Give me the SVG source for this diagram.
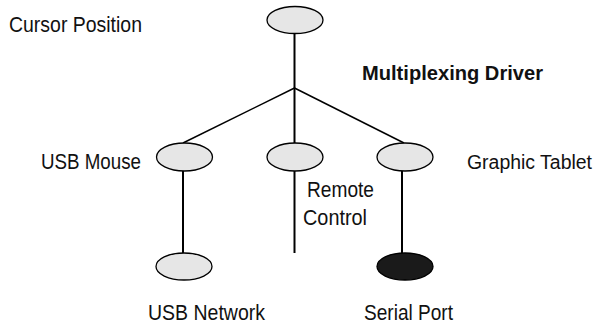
<svg xmlns="http://www.w3.org/2000/svg" width="599" height="326" viewBox="0 0 599 326">
<style>
  .n { fill: #e6e6e6; stroke: #000; stroke-width: 1.3; }
  .dark { fill: #1a1a1a; stroke: #000; stroke-width: 1.3; }
  .c { stroke: #000; stroke-width: 2; fill: none; }
  .d { stroke: #000; stroke-width: 1.5; fill: none; }
  text { font-family: "Liberation Sans", Arial, sans-serif; font-size: 21.5px; fill: #111; }
  .b { font-weight: bold; font-size: 20.5px; }
  .s { font-size: 19.5px; }
</style>
<rect width="599" height="326" fill="#fff"/>
<g id="connectors">
  <line class="c" x1="294.5" y1="33" x2="294.5" y2="143"/>
  <line class="d" x1="294.5" y1="88" x2="183" y2="143"/>
  <line class="d" x1="294.5" y1="88" x2="404" y2="143"/>
  <line class="c" x1="183" y1="171" x2="183" y2="253"/>
  <line class="c" x1="294.5" y1="171" x2="294.5" y2="253"/>
  <line class="c" x1="402" y1="171" x2="402" y2="253"/>
</g>
<g id="cursor-position">
  <ellipse class="n" cx="295" cy="20" rx="28" ry="13.5"/>
  <text x="9" y="32" textLength="133" lengthAdjust="spacingAndGlyphs">Cursor Position</text>
</g>
<g id="multiplexing-driver">
  <text class="b" x="362" y="80" textLength="181" lengthAdjust="spacingAndGlyphs">Multiplexing Driver</text>
</g>
<g id="usb-mouse">
  <ellipse class="n" cx="184.5" cy="157" rx="28" ry="14"/>
  <text x="41" y="169" textLength="100" lengthAdjust="spacingAndGlyphs">USB Mouse</text>
</g>
<g id="remote-control">
  <ellipse class="n" cx="295" cy="157" rx="28" ry="14"/>
  <text x="307" y="197" textLength="67" lengthAdjust="spacingAndGlyphs">Remote</text>
  <text x="303" y="224.5" textLength="64" lengthAdjust="spacingAndGlyphs">Control</text>
</g>
<g id="graphic-tablet">
  <ellipse class="n" cx="405" cy="157" rx="28" ry="14"/>
  <text class="s" x="467" y="169" textLength="125" lengthAdjust="spacingAndGlyphs">Graphic Tablet</text>
</g>
<g id="usb-network">
  <ellipse class="n" cx="184" cy="266.5" rx="28" ry="13.5"/>
  <text x="148" y="319.5" textLength="117" lengthAdjust="spacingAndGlyphs">USB Network</text>
</g>
<g id="serial-port">
  <ellipse class="dark" cx="405" cy="266.5" rx="28" ry="13.5"/>
  <text x="364" y="319.5" textLength="89" lengthAdjust="spacingAndGlyphs">Serial Port</text>
</g>
</svg>
